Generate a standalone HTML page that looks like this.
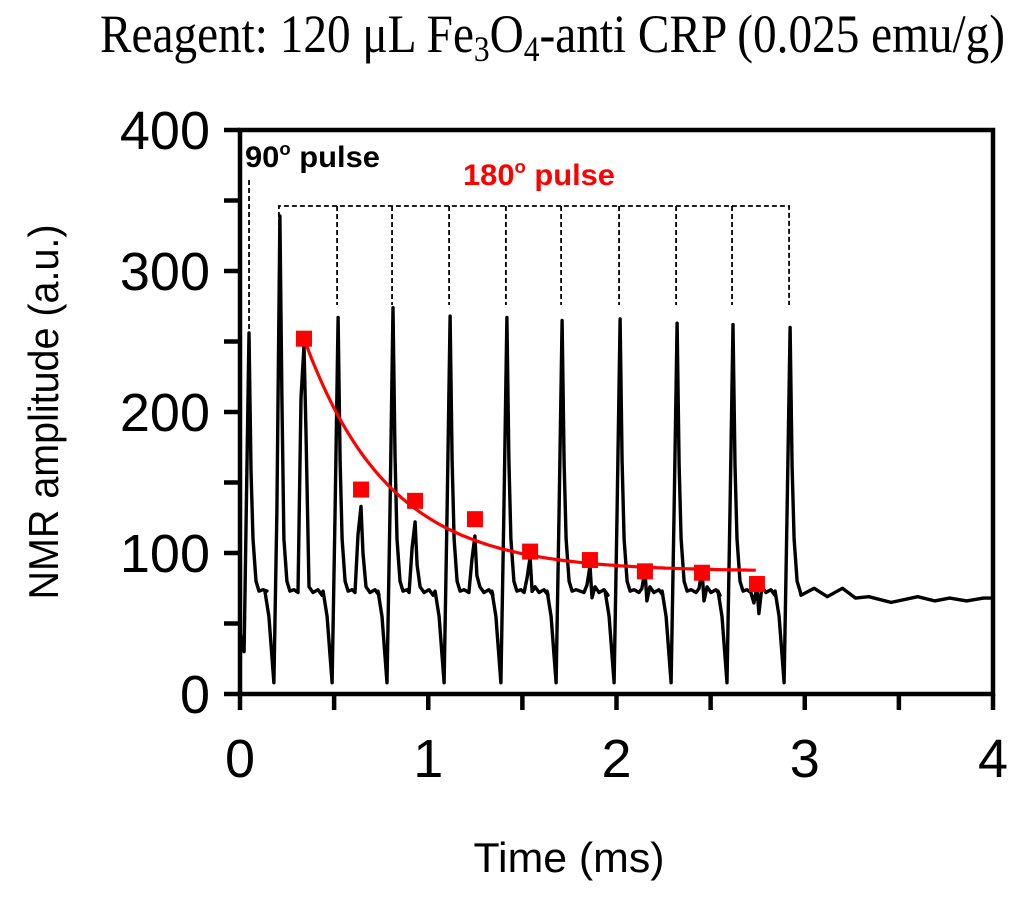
<!DOCTYPE html>
<html><head><meta charset="utf-8"><style>
html,body{margin:0;padding:0;background:#fff;}
svg{display:block;}
</style></head><body>
<svg id="chart" width="1024" height="906" viewBox="0 0 1024 906" xmlns="http://www.w3.org/2000/svg">
<text x="100" y="52" font-family="Liberation Serif, serif" font-size="54" textLength="905" lengthAdjust="spacingAndGlyphs">Reagent: 120 μL Fe<tspan font-size="36" dy="9">3</tspan><tspan dy="-9">O</tspan><tspan font-size="36" dy="9">4</tspan><tspan dy="-9">-anti CRP (0.025 emu/g)</tspan></text>
<g id="plot"></g>
<text x="569" y="872" text-anchor="middle" font-family="Liberation Sans, sans-serif" font-size="42" textLength="191" lengthAdjust="spacingAndGlyphs">Time (ms)</text>
<text transform="translate(58,412) rotate(-90)" text-anchor="middle" font-family="Liberation Sans, sans-serif" font-size="42" textLength="375" lengthAdjust="spacingAndGlyphs">NMR amplitude (a.u.)</text>
<text x="245" y="167" font-family="Liberation Sans, sans-serif" font-weight="bold" font-size="30" textLength="135" lengthAdjust="spacingAndGlyphs">90<tspan font-size="18" dy="-12">o</tspan><tspan dy="12"> pulse</tspan></text>
<text x="463" y="185" fill="#f00" font-family="Liberation Sans, sans-serif" font-weight="bold" font-size="30" textLength="152" lengthAdjust="spacingAndGlyphs">180<tspan font-size="18" dy="-12">o</tspan><tspan dy="12">  pulse</tspan></text>
</svg>
<script>
const pulseT = [0.048, 0.212, 0.521, 0.813, 1.116, 1.418, 1.711, 2.019, 2.322, 2.619, 2.922];
const pulseV = [256, 339, 267, 274, 268, 267, 265, 266, 263, 262, 260];
const echoT = [0.340, 0.643, 0.930, 1.248, 1.541, 1.859, 2.151, 2.454, 2.746];
const echoV = [247, 133, 122, 112, 97, 91, 88, 88, 76];
const markerV = [252, 145, 137, 124, 101, 95, 87, 86, 78];
const baseV = 73;
const minV = 8;
const tailT = [2.98, 3.05, 3.12, 3.20, 3.27, 3.34, 3.46, 3.60, 3.69, 3.77, 3.86, 3.95, 4.0];
const tailV = [70, 75, 69, 75, 68, 69, 65, 69, 66, 68, 66, 68, 68];
const fitA = 87, fitB = 165, fitTau = 0.45;
const xTicks = [0, 1, 2, 3, 4];
const yTicks = [0, 100, 200, 300, 400];

const NS = 'http://www.w3.org/2000/svg';
const L = 240, R = 993, T = 130, B = 694;
const xs = t => L + (t - 0) / 4 * (R - L);
const ys = v => B - v / 400 * (B - T);
const px = 4 / (R - L);
const g = document.getElementById('plot');
function mk(tag, attrs) { const e = document.createElementNS(NS, tag); for (const k in attrs) e.setAttribute(k, attrs[k]); g.appendChild(e); return e; }

const d90 = mk('line', {x1: xs(pulseT[0]), x2: xs(pulseT[0]), y1: 180, y2: 330, stroke: '#000', 'stroke-width': 1.8, 'stroke-dasharray': '5,3'});


const dp = [];
for (let i = 1; i < pulseT.length; i++) dp.push(xs(pulseT[i]) - 1);
let dd = `M${dp[0]},305 L${dp[0]},206 L${dp[dp.length-1]},206 L${dp[dp.length-1]},305`;
for (let i = 1; i < dp.length - 1; i++) dd += ` M${dp[i]},206 L${dp[i]},305`;
const dpath = mk('path', {d: dd, fill: 'none', stroke: '#000', 'stroke-width': 1.8, 'stroke-dasharray': '5,3'});



const pts = [];
pts.push([0, 0], [0.003, 42], [0.012, 33], [0.022, 30]);
for (let k = 0; k < pulseT.length; k++) {
  const P = pulseT[k], h = pulseV[k];
  if (k > 0) { pts.push([P - 15*px, baseV], [P - 11*px, 55], [P - 6*px, minV], [P - 3*px, 130]); }
  pts.push([P, h], [P + 2*px, h*0.62], [P + 4*px, 110], [P + 7*px, 80], [P + 10*px, baseV]);
  if (k >= 1 && k - 1 < echoT.length) {
    const E = echoT[k-1], e = echoV[k-1];
    pts.push([P + 14*px, 74], [E - 6*px, 72], [E - 3*px, e*0.85], [E, e], [E + 2*px, e*0.75], [E + 5*px, 76], [E + 9*px, 72], [E + 14*px, 74], [E + 18*px, 70]);
  } else if (k === 0) {
    pts.push([P + 14*px, 74], [P + 18*px, 73]);
  }
}
for (let i = 0; i < tailT.length; i++) pts.push([tailT[i], tailV[i]]);
const sig = mk('path', {d: 'M' + pts.map(p => xs(p[0]).toFixed(1) + ',' + ys(p[1]).toFixed(1)).join(' L'), fill: 'none', stroke: '#000', 'stroke-width': 3.4, 'stroke-linejoin': 'round'});



const fp = [];
for (let t = echoT[0]; t <= echoT[echoT.length-1] + 0.001; t += 0.02) fp.push([t, fitA + fitB * Math.exp(-(t - echoT[0]) / fitTau)]);
const fit = mk('path', {d: 'M' + fp.map(p => xs(p[0]).toFixed(1) + ',' + ys(p[1]).toFixed(1)).join(' L'), fill: 'none', stroke: '#f00', 'stroke-width': 3.2});



for (let i = 0; i < echoT.length; i++) {
  const m = mk('rect', {x: xs(echoT[i]) - 8, y: ys(markerV[i]) - 8, width: 16, height: 16, fill: '#f00'});
  
  
}

const box = mk('rect', {x: L, y: T, width: R - L, height: B - T, fill: 'none', stroke: '#000', 'stroke-width': 4.5});


for (let v = 0; v <= 4.001; v += 0.5) {
  const tk = mk('line', {x1: xs(v), x2: xs(v), y1: B, y2: B + 16, stroke: '#000', 'stroke-width': 4.5});
  
  
}
for (let v = 0; v <= 400; v += 50) {
  const tk = mk('line', {x1: L - 16, x2: L, y1: ys(v), y2: ys(v), stroke: '#000', 'stroke-width': 4.5});
  
  
}
xTicks.forEach(v => {
  const t = mk('text', {x: xs(v), y: 777, 'text-anchor': 'middle', 'font-family': 'Liberation Sans, sans-serif', 'font-size': 54});
  t.textContent = v;
  
  
});
yTicks.forEach(v => {
  const t = mk('text', {x: 210, y: ys(v) + 19, 'text-anchor': 'end', 'font-family': 'Liberation Sans, sans-serif', 'font-size': 54});
  t.textContent = v;
  
  
});
</script>
</body></html>
